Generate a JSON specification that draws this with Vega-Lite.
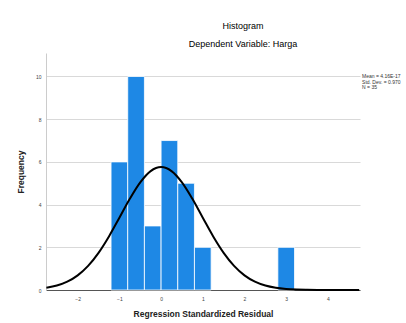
{
  "$schema": "https://vega.github.io/schema/vega-lite/v6.json",
  "width": 314,
  "height": 237,
  "autosize": {"type": "none"},
  "padding": {"left": 46, "top": 53, "right": 46, "bottom": 33},
  "background": "white",
  "title": {
    "text": "Histogram",
    "subtitle": "Dependent Variable: Harga",
    "anchor": "middle",
    "dx": 40,
    "offset": 4,
    "font": "Liberation Sans",
    "fontSize": 9,
    "fontWeight": "normal",
    "color": "#000000",
    "subtitleFont": "Liberation Sans",
    "subtitleFontSize": 9,
    "subtitleColor": "#000000",
    "subtitlePadding": 9
  },
  "datasets": {
    "bins": [
      {"bin_start": -1.2, "bin_end": -0.8, "count": 6},
      {"bin_start": -0.8, "bin_end": -0.4, "count": 10},
      {"bin_start": -0.4, "bin_end": 0.0, "count": 3},
      {"bin_start": 0.0, "bin_end": 0.4, "count": 7},
      {"bin_start": 0.4, "bin_end": 0.8, "count": 5},
      {"bin_start": 0.8, "bin_end": 1.2, "count": 2},
      {"bin_start": 2.8, "bin_end": 3.2, "count": 2}
    ],
    "curve": [
      {"x": -2.75, "y": 0.104},
      {"x": -2.5, "y": 0.208},
      {"x": -2.25, "y": 0.391},
      {"x": -2.0, "y": 0.687},
      {"x": -1.75, "y": 1.131},
      {"x": -1.5, "y": 1.742},
      {"x": -1.25, "y": 2.509},
      {"x": -1.0, "y": 3.384},
      {"x": -0.75, "y": 4.27},
      {"x": -0.5, "y": 5.041},
      {"x": -0.25, "y": 5.569},
      {"x": 0.0, "y": 5.757},
      {"x": 0.25, "y": 5.569},
      {"x": 0.5, "y": 5.041},
      {"x": 0.75, "y": 4.27},
      {"x": 1.0, "y": 3.384},
      {"x": 1.25, "y": 2.509},
      {"x": 1.5, "y": 1.742},
      {"x": 1.75, "y": 1.131},
      {"x": 2.0, "y": 0.687},
      {"x": 2.25, "y": 0.391},
      {"x": 2.5, "y": 0.208},
      {"x": 2.75, "y": 0.104},
      {"x": 3.0, "y": 0.048},
      {"x": 3.25, "y": 0.021},
      {"x": 3.5, "y": 0.009},
      {"x": 3.75, "y": 0.003},
      {"x": 4.0, "y": 0.001},
      {"x": 4.25, "y": 0.0004},
      {"x": 4.5, "y": 0.0001},
      {"x": 4.75, "y": 0.00003}
    ],
    "stats": [
      {"label": "Mean = 4.16E-17\nStd. Dev. = 0.970\nN = 35"}
    ]
  },
  "layer": [
    {
      "data": {"name": "bins"},
      "mark": {"type": "bar", "color": "#1E88E5", "stroke": "white", "strokeWidth": 0.8},
      "encoding": {
        "x": {
          "field": "bin_start",
          "type": "quantitative",
          "scale": {"domain": [-2.76, 4.77], "nice": false, "zero": false},
          "axis": {
            "values": [-2, -1, 0, 1, 2, 3, 4],
            "title": "Regression Standardized Residual",
            "grid": false,
            "ticks": false,
            "domainColor": "#555555",
            "domainWidth": 1.2,
            "labelFont": "Liberation Sans",
            "labelFontSize": 5,
            "labelColor": "#444444",
            "labelPadding": 6,
            "titleFont": "Liberation Sans",
            "titleFontSize": 8.5,
            "titleFontWeight": "bold",
            "titleColor": "#222222",
            "titlePadding": 8
          }
        },
        "x2": {"field": "bin_end"},
        "y": {
          "field": "count",
          "type": "quantitative",
          "scale": {"domain": [0, 11.1], "nice": false},
          "axis": {
            "values": [0, 2, 4, 6, 8, 10],
            "title": "Frequency",
            "grid": true,
            "gridColor": "#d9d9d9",
            "gridWidth": 1,
            "ticks": false,
            "domainColor": "#cccccc",
            "labelFont": "Liberation Sans",
            "labelFontSize": 5,
            "labelColor": "#444444",
            "labelPadding": 5,
            "titleFont": "Liberation Sans",
            "titleFontSize": 8.5,
            "titleFontWeight": "bold",
            "titleColor": "#222222",
            "titlePadding": 10
          }
        },
        "y2": {"datum": 0}
      }
    },
    {
      "data": {"name": "curve"},
      "mark": {"type": "line", "color": "black", "strokeWidth": 2, "interpolate": "monotone"},
      "encoding": {
        "x": {"field": "x", "type": "quantitative"},
        "y": {"field": "y", "type": "quantitative"}
      }
    },
    {
      "data": {"name": "stats"},
      "mark": {"type": "text", "align": "left", "baseline": "middle", "lineBreak": "\n", "font": "Liberation Sans", "fontSize": 5, "color": "#333333", "lineHeight": 5.5},
      "encoding": {
        "x": {"datum": 4.82, "type": "quantitative"},
        "y": {"datum": 10, "type": "quantitative"},
        "text": {"field": "label"}
      }
    }
  ],
  "config": {"view": {"stroke": null}}
}
